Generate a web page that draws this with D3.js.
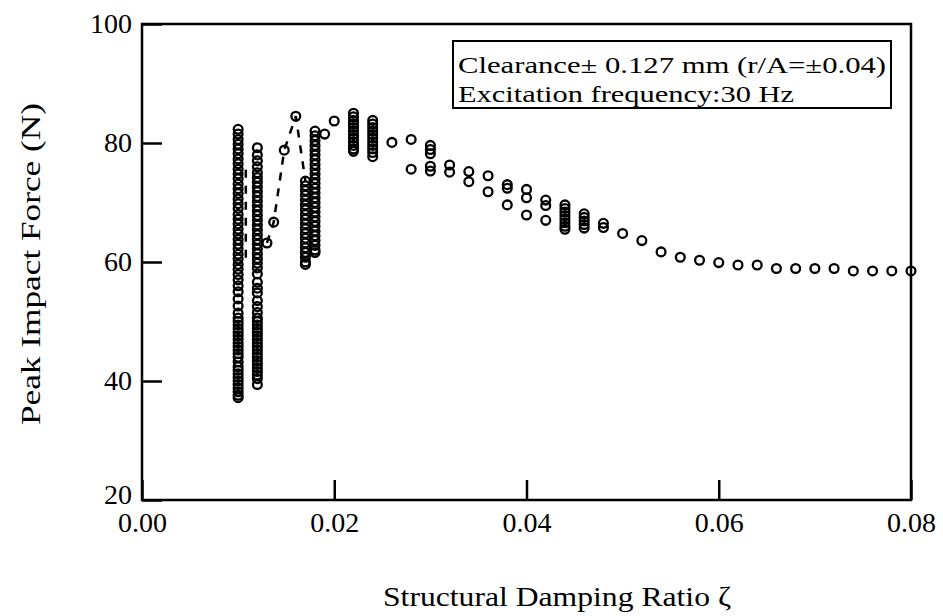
<!DOCTYPE html>
<html>
<head>
<meta charset="utf-8">
<script src="https://cdn.jsdelivr.net/npm/d3@7"></script>
<style>
  html, body { margin: 0; padding: 0; background: #fff; }
  svg { display: block; }
  text { font-family: "Liberation Serif", "DejaVu Serif", serif; fill: #000; }
</style>
</head>
<body>
<svg id="chart" width="943" height="616"></svg>
<script>
// ---- data ----
const xTicks = [0.00, 0.02, 0.04, 0.06, 0.08];
const xTickLabels = ["0.00", "0.02", "0.04", "0.06", "0.08"];
const yTicks = [20, 40, 60, 80, 100];
const yTickLabels = ["20", "40", "60", "80", "100"];

// damping ratio values at which peak forces were recorded
const damping = [0.010, 0.012, 0.013, 0.0137, 0.0148, 0.016, 0.017, 0.018, 0.019, 0.020,
  0.022, 0.024, 0.026, 0.028, 0.030, 0.032, 0.034, 0.036, 0.038, 0.040, 0.042, 0.044,
  0.046, 0.048, 0.050, 0.052, 0.054, 0.056, 0.058, 0.060, 0.062, 0.064, 0.066, 0.068,
  0.070, 0.072, 0.074, 0.076, 0.078, 0.080];

// peak impact forces (N) at each damping value
const peakForces = [
  [82.3, 81.5, 80.6, 79.8, 79.0, 78.2, 77.3, 76.5, 75.6, 74.8, 74.0, 73.1, 72.3, 71.5, 70.6,
   69.8, 69.0, 68.0, 67.2, 66.4, 65.5, 64.7, 63.8, 63.0, 62.2, 61.3, 60.5, 59.6, 58.8, 57.9,
   57.0, 56.0, 55.0, 53.8, 52.6, 51.4, 50.6, 50.0, 49.4, 48.8, 48.2, 47.6, 47.0, 46.4, 45.8,
   45.2, 44.6, 44.0, 43.2, 42.4, 41.8, 41.2, 40.6, 40.0, 39.4, 38.8, 38.2, 37.6, 37.2],
  [79.2, 78.0, 77.0, 76.0, 75.0, 74.2, 73.4, 72.6, 71.8, 71.0, 70.2, 69.4, 68.6, 67.8, 67.0,
   66.2, 65.4, 64.6, 63.8, 63.0, 62.2, 61.4, 60.6, 59.8, 59.0, 58.0, 56.6, 55.6, 54.8, 53.5,
   52.5, 51.5, 50.6, 50.0, 49.4, 48.8, 48.2, 47.6, 47.0, 46.4, 45.8, 45.2, 44.6, 44.0, 43.4,
   42.8, 42.2, 41.6, 41.0, 40.4, 39.4],
  [63.2],
  [66.7],
  [78.8],
  [84.5],
  [73.6, 72.8, 72.0, 71.2, 70.4, 69.6, 68.8, 68.0, 67.2, 66.4, 65.6, 64.8, 64.0, 63.2, 62.4,
   61.6, 60.8, 60.0, 59.6],
  [82.0, 81.2, 80.4, 79.6, 78.8, 78.0, 77.2, 76.4, 75.6, 74.8, 74.0, 73.2, 72.4, 71.6, 70.8,
   70.0, 69.2, 68.4, 67.6, 66.8, 66.0, 65.2, 64.4, 63.6, 62.8, 62.0, 61.6],
  [81.5],
  [83.7],
  [85.0, 84.4, 83.8, 83.2, 82.6, 82.0, 81.4, 80.8, 80.2, 79.6, 79.0, 78.6],
  [83.8, 83.2, 82.6, 82.0, 81.4, 80.8, 80.2, 79.6, 79.0, 78.4, 77.7],
  [80.1],
  [80.6, 75.6],
  [79.6, 78.9, 78.2, 76.1, 75.3],
  [76.3, 75.1],
  [75.2, 73.5],
  [74.5, 71.8],
  [73.0, 72.4, 69.6],
  [72.2, 70.8, 67.9],
  [70.4, 69.5, 67.0],
  [69.6, 69.0, 68.4, 67.8, 67.2, 66.6, 66.0, 65.5],
  [68.1, 67.5, 66.9, 66.3, 65.7],
  [66.5, 65.8],
  [64.8],
  [63.6],
  [61.7],
  [60.8],
  [60.3],
  [59.9],
  [59.5],
  [59.5],
  [58.9],
  [58.9],
  [58.9],
  [58.9],
  [58.5],
  [58.5],
  [58.5],
  [58.5]
];

// dashed branch lines
const dashBranchX = [0.013, 0.0137, 0.0148, 0.016, 0.017];
const dashBranchY = [63.2, 66.7, 78.8, 84.5, 73.6];
const dashBranch2X = [0.0108, 0.0108];
const dashBranch2Y = [75.5, 60.0];

const legendLines = ["Clearance\u00B1 0.127 mm (r/A=\u00B10.04)", "Excitation frequency:30 Hz"];
const xTitle = "Structural Damping Ratio \u03B6";
const yTitle = "Peak Impact Force (N)";

// ---- drawing ----
const svg = d3.select("#chart");
const mLeft = 142, mRight = 911, mTop = 24, mBottom = 500;

const x = d3.scaleLinear().domain([0, 0.08]).range([mLeft, mRight]);
const y = d3.scaleLinear().domain([20, 100]).range([mBottom, mTop]);

const points = [];
damping.forEach((d, i) => peakForces[i].forEach(f => points.push([d, f])));

// frame
svg.append("rect")
  .attr("x", mLeft).attr("y", mTop)
  .attr("width", mRight - mLeft).attr("height", mBottom - mTop)
  .attr("fill", "none").attr("stroke", "#000").attr("stroke-width", 2.5);

// axes with inward ticks
const xAxis = d3.axisBottom(x).tickValues(xTicks)
  .tickFormat((d, i) => xTickLabels[i]).tickSizeInner(-20).tickSizeOuter(0).tickPadding(12);
const gx = svg.append("g").attr("transform", `translate(0,${mBottom})`).call(xAxis);
gx.select(".domain").remove();
gx.selectAll(".tick line").attr("stroke", "#000").attr("stroke-width", 2.5);
gx.selectAll(".tick text").attr("font-size", 28).attr("font-family", "Liberation Serif");

const yAxis = d3.axisLeft(y).tickValues(yTicks)
  .tickFormat((d, i) => yTickLabels[i]).tickSizeInner(-20).tickSizeOuter(0).tickPadding(10);
const gy = svg.append("g").attr("transform", `translate(${mLeft},0)`).call(yAxis);
gy.select(".domain").remove();
gy.selectAll(".tick line").attr("stroke", "#000").attr("stroke-width", 2.5);
gy.selectAll(".tick text").attr("font-size", 28).attr("font-family", "Liberation Serif")
  .attr("dy", d => d === 20 ? "0.12em" : "0.32em");

// dashed lines
const line = d3.line().x(d => x(d[0])).y(d => y(d[1]));
svg.append("path")
  .attr("d", line(dashBranchX.map((v, i) => [v, dashBranchY[i]])))
  .attr("fill", "none").attr("stroke", "#000").attr("stroke-width", 2.5)
  .attr("stroke-dasharray", "8,8");
svg.append("path")
  .attr("d", line(dashBranch2X.map((v, i) => [v, dashBranch2Y[i]])))
  .attr("fill", "none").attr("stroke", "#000").attr("stroke-width", 2.5)
  .attr("stroke-dasharray", "8,8");

// points
svg.append("g").selectAll("circle").data(points).join("circle")
  .attr("cx", d => x(d[0])).attr("cy", d => y(d[1])).attr("r", 4.4)
  .attr("fill", "none").attr("stroke", "#000").attr("stroke-width", 2.3);

// legend box
svg.append("rect").attr("x", 453).attr("y", 41).attr("width", 438).attr("height", 67)
  .attr("fill", "#fff").attr("stroke", "#000").attr("stroke-width", 2);
const legendWidths = [428, 336];
legendLines.forEach((t, i) => {
  svg.append("text").attr("x", 458).attr("y", 73 + i * 29)
    .attr("font-size", 24)
    .attr("textLength", legendWidths[i]).attr("lengthAdjust", "spacingAndGlyphs")
    .text(t);
});

// axis titles
svg.append("text").attr("x", 557).attr("y", 606).attr("text-anchor", "middle")
  .attr("font-size", 28).attr("textLength", 348).attr("lengthAdjust", "spacingAndGlyphs")
  .text(xTitle);
svg.append("text").attr("transform", "translate(40,264) rotate(-90)")
  .attr("text-anchor", "middle").attr("font-size", 28)
  .attr("textLength", 322).attr("lengthAdjust", "spacingAndGlyphs")
  .text(yTitle);
</script>
</body>
</html>
